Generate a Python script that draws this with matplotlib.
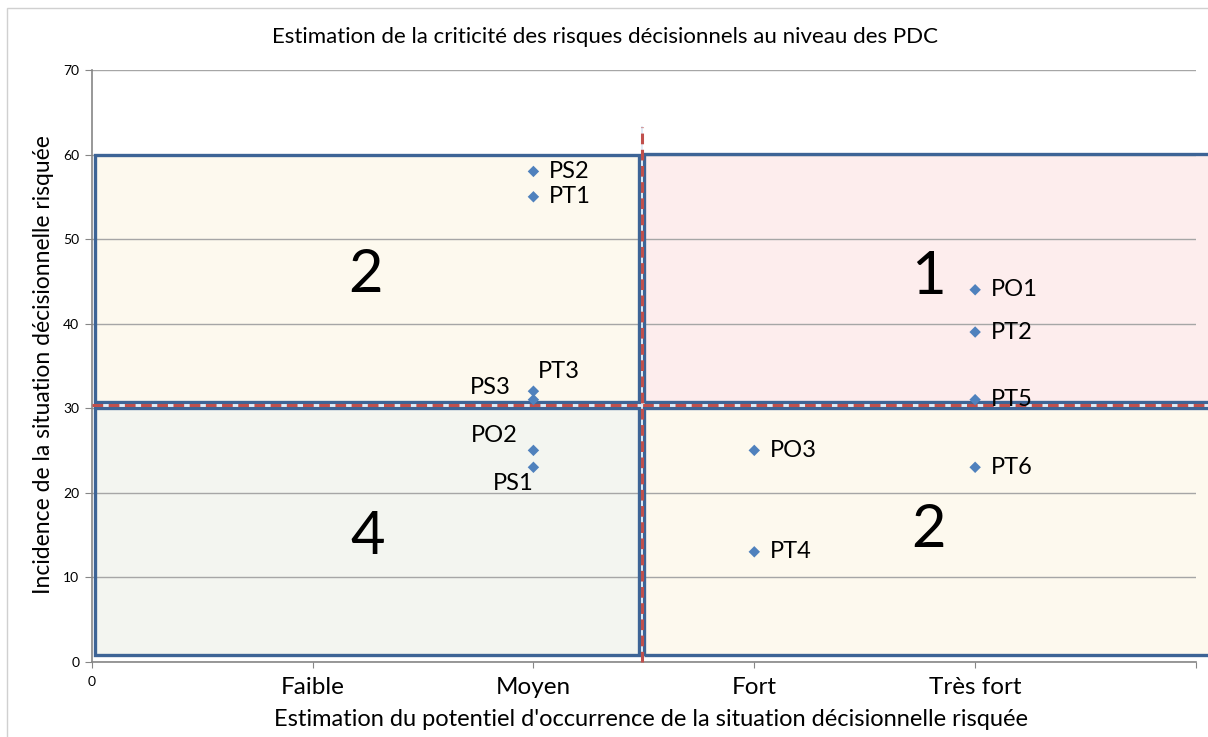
import matplotlib
matplotlib.use("Agg")
import matplotlib.pyplot as plt
from matplotlib.patches import Rectangle

plt.rcParams["font.family"] = ["Lato", "DejaVu Sans"]

# data
labels = ["PS2", "PT1", "PT3", "PS3", "PO2", "PS1", "PO3", "PT4", "PO1", "PT2", "PT5", "PT6"]
occurrence = [2, 2, 2, 2, 2, 2, 3, 3, 4, 4, 4, 4]
incidence = [58, 55, 32, 31, 25, 23, 25, 13, 44, 39, 31, 23]
categories = ["Faible", "Moyen", "Fort", "Très fort"]
category_pos = [1, 2, 3, 4]
y_ticks = [0, 10, 20, 30, 40, 50, 60, 70]

# criticity zones: (x0, x1, y0, y1, number)
zone_x0 = [0.017, 2.50, 0.017, 2.50]
zone_x1 = [2.48, 5.08, 2.48, 5.08]
zone_y0 = [30.7, 30.7, 0.85, 0.85]
zone_y1 = [59.9, 60.06, 30.0, 30.0]
zone_num = ["2", "1", "4", "2"]
zone_color = ["#fdf9ee", "#fdeded", "#f3f5f0", "#fdf9ee"]
zone_text_x = [1.24, 3.79, 1.25, 3.79]
zone_text_y = [45.7, 45.5, 14.8, 15.6]
split_x, split_y = 2.49, 30.35

# label offsets in points (dx, dy, ha)
offsets = {
    "PT3": (3, 14, "left"),
    "PS3": (-16, 9, "right"),
    "PO2": (-11.5, 11, "right"),
    "PS1": (0, -11.5, "right"),
}

W, H = 1208, 737
fig = plt.figure(figsize=(W / 100, H / 100), dpi=100)
ax = fig.add_axes([91.7 / W, 1 - 661.7 / H, (1196 - 91.7) / W, (661.7 - 70) / H])

ax.set_xlim(0, 5)
ax.set_ylim(0, 70)

for x0, x1, y0, y1, c in zip(zone_x0, zone_x1, zone_y0, zone_y1, zone_color):
    ax.add_patch(Rectangle((x0, y0), x1 - x0, y1 - y0, facecolor=c,
                           edgecolor="none", zorder=0.2, clip_on=False))
    ax.add_patch(Rectangle((x0, y0), x1 - x0, y1 - y0, facecolor="none",
                           edgecolor="#3d6496", linewidth=2.4, zorder=2,
                           clip_on=False))

for tx, ty, n in zip(zone_text_x, zone_text_y, zone_num):
    ax.text(tx, ty, n, fontsize=43, ha="center", va="center", color="black", zorder=3)

# split lines
ax.plot([0, 5.08], [split_y, split_y], color="#dbe8f5", linewidth=1.2,
        zorder=2.5, clip_on=False)
ax.plot([0, 5.08], [split_y, split_y], color="#c0504d", linewidth=2.2,
        dashes=(3.5, 1.8), zorder=2.6, clip_on=False)
ax.plot([split_x, split_x], [0, 63.3], color="#dbe8f5", linewidth=1.2,
        zorder=2.5, clip_on=False)
ax.plot([split_x, split_x], [0, 63.3], color="#c0504d", linewidth=2.2,
        dashes=(3.5, 1.8), zorder=2.6, clip_on=False)

ax.scatter(occurrence, incidence, marker="D", s=34, color="#4f81bd",
           edgecolors="none", zorder=4)
for lab, x, y in zip(labels, occurrence, incidence):
    dx, dy, ha = offsets.get(lab, (11, 0, "left"))
    ax.annotate(lab, (x, y), xytext=(dx, dy), textcoords="offset points",
                ha=ha, va="center", fontsize=17, color="black", zorder=5)

ax.set_axisbelow(True)
ax.set_yticks(y_ticks)
ax.yaxis.grid(True, color="#a6a6a6", linewidth=1.0)
ax.set_xticks([0] + category_pos + [5])
ax.set_xticklabels(["0", "", "", "", "", ""])
ax.tick_params(axis="y", labelsize=10, length=5, color="#868686", pad=4)
ax.tick_params(axis="x", labelsize=10, length=4, color="#868686", pad=6)
for p, c in zip(category_pos, categories):
    ax.text(p, -3.0, c, ha="center", va="center", fontsize=17.5,
            transform=ax.transData)

for s in ("top", "right"):
    ax.spines[s].set_visible(False)
for s in ("left", "bottom"):
    ax.spines[s].set_color("#868686")
    ax.spines[s].set_linewidth(1.2)

fig.text(605 / W, 1 - 37 / H, "Estimation de la criticité des risques décisionnels au niveau des PDC",
         ha="center", va="center", fontsize=16)
fig.text(651 / W, 1 - 720 / H,
         "Estimation du potentiel d'occurrence de la situation décisionnelle risquée",
         ha="center", va="center", fontsize=17)
fig.text(44 / W, 1 - 365 / H, "Incidence de la situation décisionnelle risquée",
         ha="center", va="center", fontsize=16.5, rotation=90)

# chart frame
fig.add_artist(Rectangle((7.5 / W, -0.02), 1.1, 1 - 8 / H + 0.02,
                         transform=fig.transFigure, facecolor="none",
                         edgecolor="#d0d0d0", linewidth=1.0))

fig.savefig("out.png", dpi=100)
